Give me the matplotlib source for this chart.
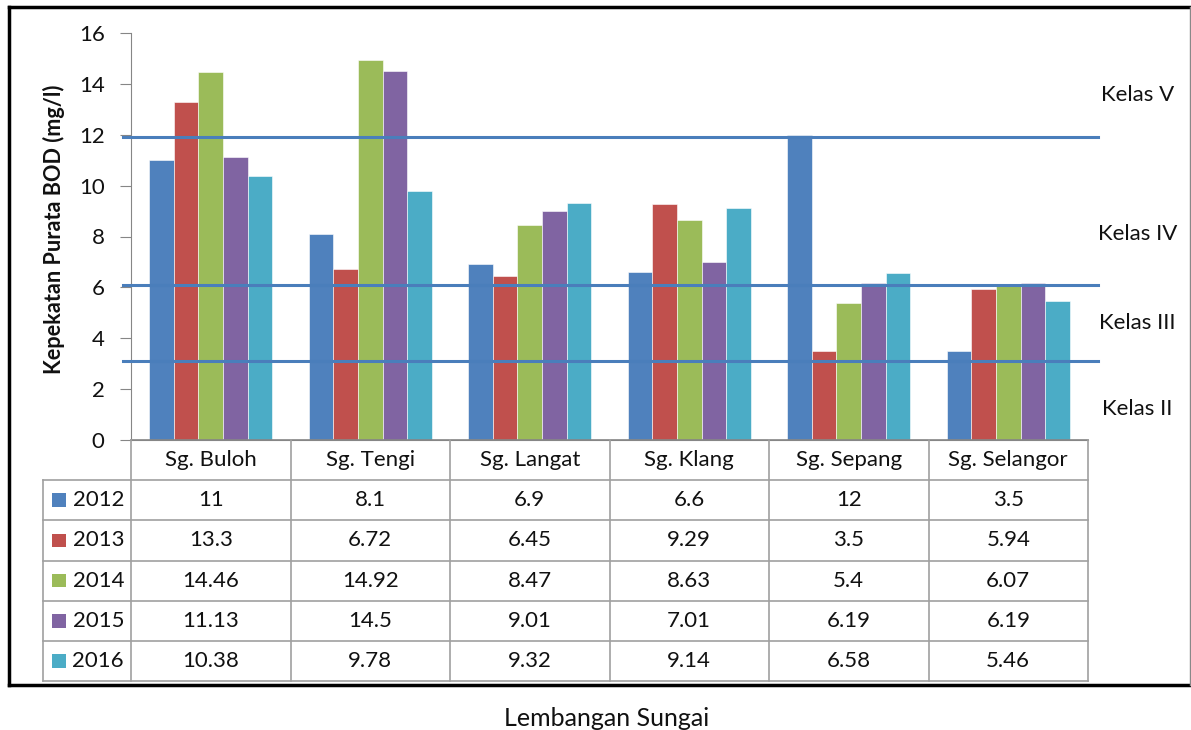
import matplotlib
matplotlib.use('Agg')
import matplotlib.pyplot as plt
from matplotlib.patches import Rectangle
from matplotlib.lines import Line2D

plt.rcParams['font.family'] = ['Lato', 'DejaVu Sans']

# data
rivers = ['Sg. Buloh', 'Sg. Tengi', 'Sg. Langat', 'Sg. Klang', 'Sg. Sepang', 'Sg. Selangor']
years = ['2012', '2013', '2014', '2015', '2016']
bod_2012 = [11, 8.1, 6.9, 6.6, 12, 3.5]
bod_2013 = [13.3, 6.72, 6.45, 9.29, 3.5, 5.94]
bod_2014 = [14.46, 14.92, 8.47, 8.63, 5.4, 6.07]
bod_2015 = [11.13, 14.5, 9.01, 7.01, 6.19, 6.19]
bod_2016 = [10.38, 9.78, 9.32, 9.14, 6.58, 5.46]
series = [bod_2012, bod_2013, bod_2014, bod_2015, bod_2016]
colors = ['#4F81BD', '#C0504D', '#9BBB59', '#8064A2', '#4BACC6']

# class boundaries as drawn, and class labels
class_lines = [11.9, 6.1, 3.1]
class_names = ['Kelas V', 'Kelas IV', 'Kelas III', 'Kelas II']
class_label_y = [13.56, 8.1, 4.6, 1.22]

W, H = 1191, 730
fig = plt.figure(figsize=(W / 100, H / 100), dpi=100)

def fx(px):
    return px / W

def fy(py):
    return 1 - py / H

txt = '#111111'
fs = 16

ax = fig.add_axes([fx(131), fy(440), fx(1088) - fx(131), fy(33) - fy(440)])
grey = '#868686'
bw = 0.154
n = len(series)
for i, vals in enumerate(series):
    xs = [j + (i - (n - 1) / 2) * bw for j in range(len(rivers))]
    ax.bar(xs, vals, width=bw, color=colors[i], edgecolor='white', linewidth=0.4, zorder=2)

ax.set_xlim(-0.5, len(rivers) - 0.5)
ax.set_ylim(0, 16)
ax.set_yticks(range(0, 17, 2))
ax.set_xticks([])
ax.tick_params(axis='y', labelsize=fs, length=8, color=grey, pad=11, labelcolor=txt)
for s in ['top', 'right']:
    ax.spines[s].set_visible(False)
ax.spines['left'].set_color(grey)
ax.spines['bottom'].set_color(grey)
ax.set_ylabel('Kepekatan Purata BOD (mg/l)', fontsize=15.6, fontweight='bold', color=txt)
ax.yaxis.set_label_coords(-0.069, 0.518)

for yv in class_lines:
    ax.plot([-0.55, 5.565], [yv, yv], color='#4A7EBB', lw=2.2, clip_on=False, zorder=3)
for name, yv in zip(class_names, class_label_y):
    ax.text(5.81, yv, name, fontsize=fs, ha='center', va='center', color=txt, clip_on=False)

# data table below the plot
tab = fig.add_axes([fx(43), fy(681), fx(1088) - fx(43), fy(440) - fy(681)])
leg_w = (131 - 43) / 159.5
tab.set_xlim(-0.5 - leg_w, len(rivers) - 0.5)
tab.set_ylim(len(years) + 1, 0)
tab.axis('off')
lc = '#A0A0A0'
# horizontal lines
for r in range(1, len(years) + 2):
    tab.plot([-0.5 - leg_w, len(rivers) - 0.5], [r, r], color=lc, lw=1.2, clip_on=False)
tab.plot([-0.5, len(rivers) - 0.5], [0, 0], color=grey, lw=1.2, clip_on=False)
# vertical lines
tab.plot([-0.5 - leg_w, -0.5 - leg_w], [1, len(years) + 1], color=lc, lw=1.2, clip_on=False)
for c in range(len(rivers) + 1):
    tab.plot([c - 0.5, c - 0.5], [0, len(years) + 1], color=lc, lw=1.2, clip_on=False)
for c, name in enumerate(rivers):
    tab.text(c, 0.5, name, ha='center', va='center', fontsize=fs, color=txt)
for r, (yr, vals) in enumerate(zip(years, series)):
    yc = r + 1.5
    sq = 14 / 159.5
    tab.add_patch(Rectangle((-0.5 - leg_w + 9 / 159.5, yc - 0.17), sq, 0.34,
                            color=colors[r], lw=0))
    tab.text(-0.5 - 7 / 159.5, yc, yr, ha='right', va='center', fontsize=fs, color=txt)
    for c, v in enumerate(vals):
        tab.text(c, yc, f'{v:g}', ha='center', va='center', fontsize=fs, color=txt)

# outer frame
fig.add_artist(Line2D([fx(9), fx(9)], [fy(7), fy(685)], color='black', lw=2.5))
fig.add_artist(Line2D([fx(9), fx(1190)], [fy(7), fy(7)], color='black', lw=2.5))
fig.add_artist(Line2D([fx(9), fx(1190)], [fy(685), fy(685)], color='black', lw=2.5))
fig.add_artist(Line2D([fx(1189.5), fx(1189.5)], [fy(7), fy(685)], color='#888888', lw=1))

fig.text(fx(607), fy(718), 'Lembangan Sungai', ha='center', va='center', fontsize=18, color=txt)

fig.savefig('out.png', dpi=100)
